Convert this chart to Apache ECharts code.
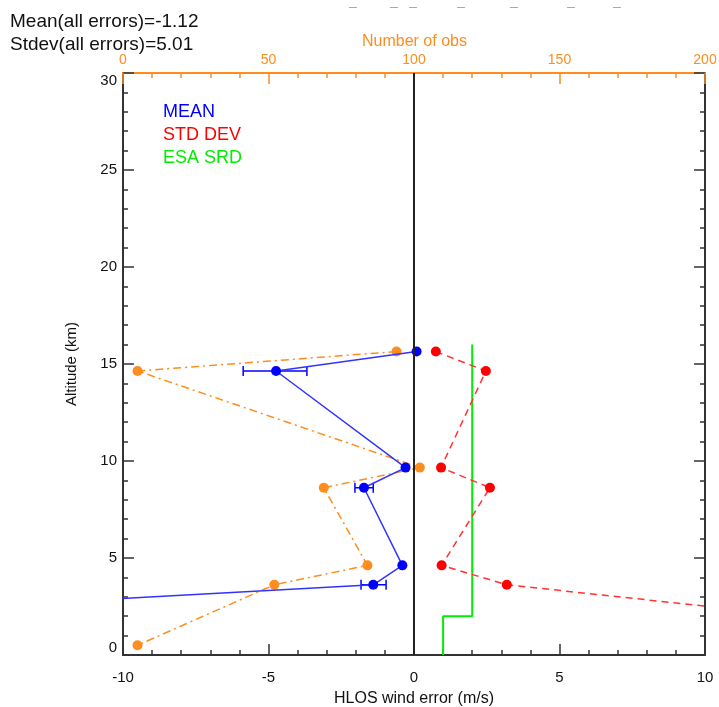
<!DOCTYPE html>
<html>
<head>
<meta charset="UTF-8">
<title>HLOS wind error profile</title>
<script src="https://cdn.jsdelivr.net/npm/echarts@6/dist/echarts.min.js"></script>
<style>
  html, body { margin: 0; padding: 0; background: #fff; }
  #chart { width: 719px; height: 707px; }
</style>
</head>
<body>
<div id="chart"></div>
<script>
// layer altitudes (km), top to bottom
var altitude = [15.64, 14.64, 9.66, 8.62, 4.62, 3.62, 0.5];
// mean HLOS error (m/s); the lowest layer lies off the plot to the left
var meanErr = [0.09, -4.74, -0.29, -1.72, -0.4, -1.4, -39.2];
// error bar ends for the mean (null = no bar drawn)
var meanLo = [null, -5.87, null, -2.03, null, -1.82, null];
var meanHi = [null, -3.68, null, -1.40, null, -0.96, null];
// standard deviation (m/s); the lowest layer lies off the plot to the right
var stdDev = [0.75, 2.47, 0.93, 2.61, 0.95, 3.19, 22.5];
// number of observations per layer (top axis)
var numObs = [94, 5, 102, 69, 84, 52, 5];
// ESA system requirement (step curve)
var srdAlt = [0, 2, 2, 16];
var srdErr = [1, 1, 2, 2];

var FONT = '"Liberation Sans", Arial, Helvetica, sans-serif';
var ORANGE = '#ff8c1e';
var AXIS = '#333';

function pairs(xs, ys) {
  var out = [];
  for (var i = 0; i < xs.length; i++) out.push([xs[i], ys[i]]);
  return out;
}

var bars = [];
for (var i = 0; i < altitude.length; i++) {
  if (meanLo[i] !== null) bars.push([altitude[i], meanLo[i], meanHi[i]]);
}

var chart = echarts.init(document.getElementById('chart'));

function valueAxis(extra) {
  var base = {
    type: 'value',
    axisLine: { show: true, onZero: false, lineStyle: { color: AXIS, width: 2 } },
    axisTick: { show: true, inside: true, length: 11, lineStyle: { color: AXIS, width: 1.5 } },
    minorTick: { show: true, splitNumber: 5, length: 5, lineStyle: { color: AXIS, width: 1.5 } },
    splitLine: { show: false },
    axisLabel: { color: '#111', fontSize: 15, fontFamily: FONT },
    nameTextStyle: { color: '#111', fontSize: 16, fontFamily: FONT }
  };
  return echarts.util.merge(base, extra, true);
}

var option = {
  animation: false,
  textStyle: { fontFamily: FONT },
  grid: { left: 123, right: 14, top: 73, bottom: 52, containLabel: false, outerBoundsMode: 'none' },
  xAxis: [
    valueAxis({
      position: 'bottom', min: -10, max: 10, interval: 5,
      name: 'HLOS wind error (m/s)', nameLocation: 'middle', nameGap: 36,
      axisLabel: { margin: 15 }
    }),
    valueAxis({
      position: 'top', min: 0, max: 200, interval: 50,
      axisLine: { lineStyle: { color: ORANGE } },
      axisTick: { lineStyle: { color: ORANGE } },
      minorTick: { lineStyle: { color: ORANGE } },
      axisLabel: { color: ORANGE, fontSize: 14, margin: 6 }
    })
  ],
  yAxis: [
    valueAxis({
      position: 'left', min: 0, max: 30, interval: 5,
      name: 'Altitude (km)', nameLocation: 'middle', nameGap: 44, nameRotate: 90,
      axisLabel: { margin: 6, verticalAlignMaxLabel: 'top', verticalAlignMinLabel: 'bottom' },
      nameTextStyle: { fontSize: 15 }
    }),
    valueAxis({
      position: 'right', min: 0, max: 30, interval: 5,
      axisLabel: { show: false }
    })
  ],
  graphic: [
    { type: 'text', left: 10, top: 12, style: { text: 'Mean(all errors)=-1.12', font: '19px ' + FONT, fill: '#111' } },
    { type: 'text', left: 10, top: 35, style: { text: 'Stdev(all errors)=5.01', font: '19px ' + FONT, fill: '#111' } },
    // name of the top (orange) axis
    { type: 'text', left: 362, top: 34, style: { text: 'Number of obs', font: '16px ' + FONT, fill: ORANGE } },
    { type: 'text', left: 163, top: 103, style: { text: 'MEAN', font: '18px ' + FONT, fill: '#0000ff' } },
    { type: 'text', left: 163, top: 126, style: { text: 'STD DEV', font: '18px ' + FONT, fill: '#ff0000' } },
    { type: 'text', left: 163, top: 149, style: { text: 'ESA SRD', font: '18px ' + FONT, fill: '#00ee00' } },
    // faint remains of a cut-off title line
    { type: 'group', left: 349, top: 7, children: [
      { type: 'rect', shape: { x: 0, y: 0, width: 8, height: 1 }, style: { fill: '#aaa' } },
      { type: 'rect', shape: { x: 41, y: 0, width: 8, height: 1 }, style: { fill: '#aaa' } },
      { type: 'rect', shape: { x: 60, y: 0, width: 8, height: 1 }, style: { fill: '#aaa' } },
      { type: 'rect', shape: { x: 108, y: 0, width: 8, height: 1 }, style: { fill: '#aaa' } },
      { type: 'rect', shape: { x: 161, y: 0, width: 8, height: 1 }, style: { fill: '#aaa' } },
      { type: 'rect', shape: { x: 218, y: 0, width: 8, height: 1 }, style: { fill: '#aaa' } },
      { type: 'rect', shape: { x: 264, y: 0, width: 8, height: 1 }, style: { fill: '#aaa' } }
    ]}
  ],
  series: [
    {
      name: 'ESA SRD', type: 'line', xAxisIndex: 0, yAxisIndex: 0,
      data: pairs(srdErr, srdAlt), symbol: 'none',
      lineStyle: { color: '#00ee00', width: 2 }, z: 2
    },
    {
      name: 'STD DEV', type: 'line', xAxisIndex: 0, yAxisIndex: 0,
      data: pairs(stdDev, altitude), symbol: 'circle', symbolSize: 10,
      itemStyle: { color: '#ff0000' },
      lineStyle: { color: '#ff3333', width: 1.5, type: [7, 5] }, z: 3
    },
    {
      name: 'Number of obs', type: 'line', xAxisIndex: 1, yAxisIndex: 0,
      data: pairs(numObs, altitude), symbol: 'circle', symbolSize: 10,
      itemStyle: { color: ORANGE },
      lineStyle: { color: ORANGE, width: 1.5, type: [8, 4, 2, 4] }, z: 3
    },
    {
      name: 'MEAN', type: 'line', xAxisIndex: 0, yAxisIndex: 0,
      data: pairs(meanErr, altitude), symbol: 'circle', symbolSize: 10,
      itemStyle: { color: '#0000ff' },
      lineStyle: { color: '#3333ff', width: 1.5 }, z: 4,
      markLine: {
        silent: true, symbol: 'none', label: { show: false },
        lineStyle: { color: '#222', width: 2, type: 'solid' },
        data: [{ xAxis: 0 }]
      }
    },
    {
      name: 'MEAN bars', type: 'custom', xAxisIndex: 0, yAxisIndex: 0,
      encode: { x: [1, 2], y: 0 }, data: bars, z: 4,
      renderItem: function (params, api) {
        var y = api.value(0);
        var a = api.coord([api.value(1), y]);
        var b = api.coord([api.value(2), y]);
        var h = 5;
        var st = { stroke: '#0000ff', lineWidth: 1.5 };
        return {
          type: 'group',
          children: [
            { type: 'line', shape: { x1: a[0], y1: a[1], x2: b[0], y2: b[1] }, style: st },
            { type: 'line', shape: { x1: a[0], y1: a[1] - h, x2: a[0], y2: a[1] + h }, style: st },
            { type: 'line', shape: { x1: b[0], y1: b[1] - h, x2: b[0], y2: b[1] + h }, style: st }
          ]
        };
      }
    }
  ]
};

chart.setOption(option);
</script>
</body>
</html>
